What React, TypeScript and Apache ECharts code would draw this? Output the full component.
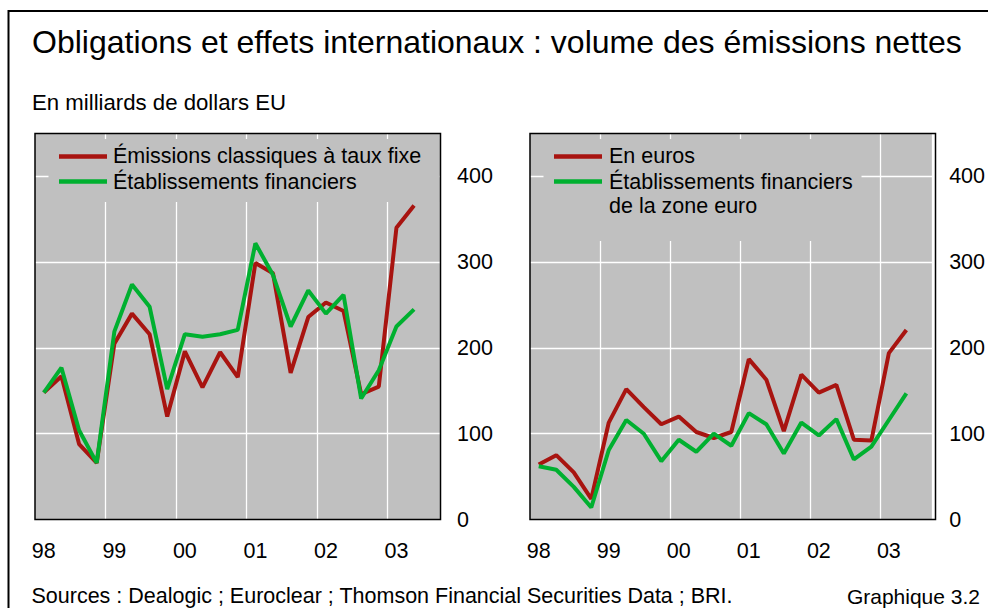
import React, { useEffect, useRef } from "react";
import * as echarts from "echarts";

// ---- Data ----
const yearTicks = ["98", "99", "00", "01", "02", "03"];
const quarterNames = ["T1", "T2", "T3", "T4"];
// 1998 T1 .. 2003 T3 (last quarter has no data, the axis runs one quarter further)
const quarters: string[] = yearTicks
  .flatMap((y) => quarterNames.map((q) => `${y} ${q}`))
  .slice(0, 23);
const valueTicks = [0, 100, 200, 300, 400];

// Left panel
const fixedRateIssues = [148, 167, 88, 66, 205, 240, 216, 120, 196, 154, 195, 166, 299, 287, 171, 236, 253, 243, 146, 155, 340, 366];
const financialInstitutions = [148, 177, 104, 66, 219, 274, 248, 152, 216, 213, 216, 221, 322, 285, 225, 267, 240, 262, 141, 174, 225, 245];
// Right panel
const euroIssues = [64, 75, 55, 24, 113, 152, 131, 111, 120, 102, 95, 102, 187, 163, 103, 169, 148, 157, 93, 92, 194, 221];
const euroAreaFinancial = [62, 58, 38, 14, 81, 116, 100, 68, 93, 79, 100, 86, 124, 111, 77, 113, 98, 117, 70, 85, 116, 147];

const seriesNames = [
  "Émissions classiques à taux fixe",
  "Établissements financiers",
  "En euros",
  "Établissements financiers\nde la zone euro",
];

const title = "Obligations et effets internationaux : volume des émissions nettes";
const subtitle = "En milliards de dollars EU";
const sourceText = "Sources : Dealogic ; Euroclear ; Thomson Financial Securities Data ; BRI.";
const chartNumber = "Graphique 3.2";

// ---- Styles / layout ----
const FONT = "'Liberation Sans', Arial, Helvetica, sans-serif";
const RED = "#a81410";
const GREEN = "#00b030";
const PANEL_BG = "#c0c0c0";
const GRID_TOP = 133.5;
const GRID_H = 386;
const GRID_W = 405.5;
const LEFTS = [35, 530];
const YMAX = 450;

export default function App() {
  const ref = useRef<HTMLDivElement>(null);

  useEffect(() => {
    if (!ref.current) return;
    const chart = echarts.init(ref.current, null, { renderer: "svg" });

    const grids = LEFTS.map((left) => ({
      left,
      top: GRID_TOP,
      width: GRID_W,
      height: GRID_H,
      show: true,
      backgroundColor: PANEL_BG,
      borderWidth: 0,
    }));

    const xAxes = [0, 1].map((g) => ({
      type: "category",
      gridIndex: g,
      data: quarters,
      boundaryGap: true,
      axisLine: { show: false },
      axisTick: { show: false },
      axisLabel: {
        interval: 3,
        margin: 20,
        fontSize: 21.5,
        fontFamily: FONT,
        color: "#000",
        formatter: (v: string) => v.slice(0, 2),
      },
      splitLine: {
        show: true,
        interval: (i: number) => i > 0 && i % 4 === 0,
        lineStyle: { color: "#ffffff", width: 1.3 },
      },
    }));

    const yAxes = [0, 1].map((g) => ({
      type: "value",
      gridIndex: g,
      position: "right",
      min: 0,
      max: YMAX,
      interval: 100,
      axisLine: { show: false },
      axisTick: { show: false },
      axisLabel: {
        margin: 16.5,
        fontSize: 21.5,
        fontFamily: FONT,
        color: "#000",
        showMaxLabel: false,
        formatter: (v: number) => (valueTicks.includes(v) ? String(v) : ""),
      },
      splitLine: {
        show: true,
        showMinLine: false,
        showMaxLine: false,
        lineStyle: { color: "#ffffff", width: 1.3 },
      },
    }));

    const mkSeries = (name: string, data: number[], color: string, idx: number) => ({
      name,
      type: "line",
      xAxisIndex: idx,
      yAxisIndex: idx,
      data,
      symbol: "none",
      z: 10,
      lineStyle: { color, width: 4 },
      itemStyle: { color },
    });

    const txt = (text: string, x: number, y: number, size: number, extra: any = {}) => ({
      type: "text",
      x,
      y,
      z: 20,
      style: {
        text,
        fontSize: size,
        fontFamily: FONT,
        fill: "#000",
        verticalAlign: "middle",
        ...extra,
      },
    });

    const legendLine = (x1: number, x2: number, y: number, color: string) => ({
      type: "line",
      z: 20,
      shape: { x1, y1: y, x2, y2: y },
      style: { stroke: color, lineWidth: 4.5 },
    });

    const graphic: any[] = [
      // outer frame
      {
        type: "rect",
        z: 0,
        shape: { x: 8.5, y: 11, width: 1100, height: 800 },
        style: { fill: "none", stroke: "#000", lineWidth: 2 },
      },
      txt(title, 32, 42, 32),
      txt(subtitle, 32, 102.5, 22.2),
      txt(sourceText, 31.5, 596, 21.5),
      txt(chartNumber, 980, 596, 21, { align: "right" }),
      // left legend
      {
        type: "rect",
        z: 5,
        shape: { x: 48.5, y: 139, width: 391, height: 63 },
        style: { fill: PANEL_BG },
      },
      legendLine(59, 107, 156.5, RED),
      txt(seriesNames[0], 113, 155.5, 21.5),
      legendLine(59, 107, 181.5, GREEN),
      txt(seriesNames[1], 113, 181.5, 21.5),
      // right legend
      {
        type: "rect",
        z: 5,
        shape: { x: 543.5, y: 139, width: 318, height: 102 },
        style: { fill: PANEL_BG },
      },
      legendLine(554, 602, 156.5, RED),
      txt(seriesNames[2], 609, 155.5, 21.5),
      legendLine(554, 602, 181.5, GREEN),
      txt(seriesNames[3], 609, 169.25, 21.5, { verticalAlign: "top", lineHeight: 24.5 }),
      // panel borders
      ...LEFTS.map((left) => ({
        type: "rect",
        z: 30,
        shape: { x: left, y: GRID_TOP, width: GRID_W, height: GRID_H },
        style: { fill: "none", stroke: "#000", lineWidth: 1.5 },
      })),
    ];

    chart.setOption({
      animation: false,
      backgroundColor: "#ffffff",
      grid: grids,
      xAxis: xAxes,
      yAxis: yAxes,
      series: [
        mkSeries(seriesNames[0], fixedRateIssues, RED, 0),
        mkSeries(seriesNames[1], financialInstitutions, GREEN, 0),
        mkSeries(seriesNames[2], euroIssues, RED, 1),
        mkSeries(seriesNames[3], euroAreaFinancial, GREEN, 1),
      ],
      graphic,
    } as any);

    return () => chart.dispose();
  }, []);

  return (
    <div
      ref={ref}
      style={{ position: "fixed", left: 0, top: 0, width: 988, height: 608, background: "#fff" }}
    />
  );
}
